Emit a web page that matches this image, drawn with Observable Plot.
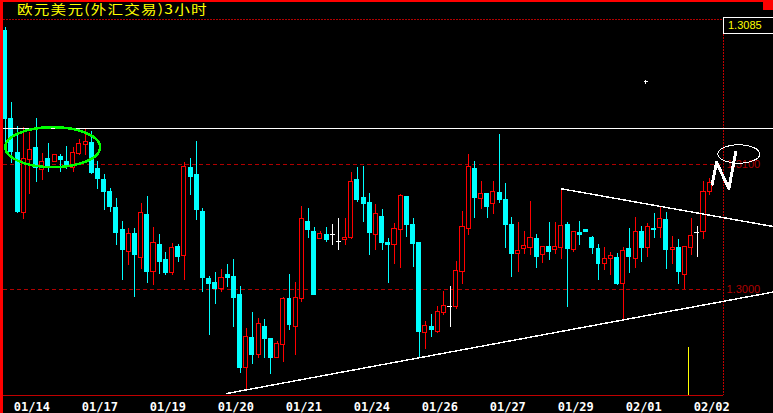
<!DOCTYPE html>
<html>
<head>
<meta charset="utf-8">
<script src="https://cdn.jsdelivr.net/npm/d3@7"></script>
<script src="https://cdn.jsdelivr.net/npm/@observablehq/plot@0.6"></script>
<style>
  html, body { margin: 0; padding: 0; background: #000; }
  #chart { position: relative; width: 773px; height: 413px; overflow: hidden; background: #000; }
  #chart svg { position: absolute; left: 0; top: 0; shape-rendering: crispEdges; }
  .edge { position: absolute; background: #ff0000; }
  .title { position: absolute; left: 17px; top: 2px; color: #ffff00; font: 13px "Noto Sans CJK SC", sans-serif;
           line-height: 14px; letter-spacing: 1px; transform: scaleX(1.2); transform-origin: 0 0; white-space: nowrap; }
  .lastBox { position: absolute; left: 723px; top: 17px; width: 60px; height: 17px; box-sizing: border-box;
             border: 1px solid #fff; border-right: none; }
  .lastText { position: absolute; left: 728px; top: 20px; color: #ffff00; font: 11px "Liberation Sans", Arial, sans-serif;
              line-height: 11px; white-space: nowrap; }
</style>
</head>
<body>
<div id="chart"></div>
<script>
// EUR/USD 3-hour candles, oldest first
const open = [
  1.32075, 1.31371, 1.31099, 1.30613, 1.31040, 1.31139, 1.30960, 1.31051, 1.31021, 1.31067,
  1.31027, 1.30976, 1.31088, 1.31160, 1.31179, 1.30971, 1.30883, 1.30787, 1.30659, 1.30483,
  1.30301, 1.30451, 1.30253, 1.30603, 1.30141, 1.30363, 1.30243, 1.30131, 1.30347, 1.30267,
  1.30979, 1.30923, 1.30627, 1.30091, 1.30059, 1.30005, 1.30123, 1.30107, 1.29963, 1.29373,
  1.29619, 1.29477, 1.29707, 1.29611, 1.29453, 1.29557, 1.29931, 1.29701, 1.29925, 1.30547,
  1.30467, 1.30403, 1.30443, 1.30440, 1.30387, 1.30395, 1.30413, 1.30883, 1.30739, 1.30699,
  1.30435, 1.30587, 1.30379, 1.30355, 1.30475, 1.30747, 1.30523, 1.30379, 1.29651, 1.29707,
  1.29659, 1.29813, 1.29867, 1.29861, 1.30141, 1.30483, 1.30971, 1.30725, 1.30771, 1.30685,
  1.30779, 1.30723, 1.30523, 1.30285, 1.30323, 1.30333, 1.30411, 1.30275, 1.30347, 1.30315,
  1.30331, 1.30523, 1.30315, 1.30459, 1.30483, 1.30419, 1.30331, 1.30203, 1.30243, 1.30259,
  1.30043, 1.30331, 1.30243, 1.30467, 1.30331, 1.30491, 1.30491, 1.30563, 1.30315, 1.30339,
  1.30115, 1.30331, 1.30459, 1.30459, 1.30779
];
const high = [
  1.32096, 1.31499, 1.31307, 1.31296, 1.31259, 1.31371, 1.31091, 1.31171, 1.31083, 1.31083,
  1.31147, 1.31139, 1.31203, 1.31280, 1.31264, 1.31027, 1.30923, 1.30811, 1.30731, 1.30547,
  1.30488, 1.30491, 1.30691, 1.30747, 1.30499, 1.30443, 1.30299, 1.30371, 1.30363, 1.31019,
  1.31051, 1.31187, 1.30651, 1.30107, 1.30139, 1.30163, 1.30203, 1.30243, 1.30027, 1.29691,
  1.29819, 1.29771, 1.29763, 1.29611, 1.29587, 1.29939, 1.30123, 1.30059, 1.30667, 1.30651,
  1.30499, 1.30467, 1.30499, 1.30523, 1.30571, 1.30571, 1.30939, 1.30979, 1.30987, 1.30771,
  1.30683, 1.30643, 1.30411, 1.30531, 1.30763, 1.30747, 1.30571, 1.30379, 1.29747, 1.29803,
  1.29867, 1.29987, 1.30027, 1.30227, 1.30627, 1.31083, 1.31027, 1.30867, 1.30771, 1.30867,
  1.31243, 1.30851, 1.30579, 1.30539, 1.30467, 1.30707, 1.30443, 1.30347, 1.30539, 1.30539,
  1.30811, 1.30539, 1.30467, 1.30547, 1.30483, 1.30427, 1.30363, 1.30339, 1.30299, 1.30291,
  1.30339, 1.30491, 1.30579, 1.30507, 1.30531, 1.30611, 1.30659, 1.30619, 1.30427, 1.30403,
  1.30347, 1.30571, 1.30507, 1.30867, 1.30891
];
const low = [
  1.31181, 1.31008, 1.30608, 1.30563, 1.30765, 1.30859, 1.30875, 1.30939, 1.31019, 1.30939,
  1.30963, 1.30939, 1.31075, 1.31075, 1.30923, 1.30803, 1.30635, 1.30619, 1.30355, 1.30075,
  1.30195, 1.29941, 1.30160, 1.30051, 1.30035, 1.30123, 1.30115, 1.30115, 1.30219, 1.30075,
  1.30755, 1.30555, 1.29979, 1.29635, 1.29883, 1.29979, 1.30019, 1.29699, 1.29331, 1.29203,
  1.29403, 1.29451, 1.29451, 1.29323, 1.29451, 1.29419, 1.29675, 1.29475, 1.29899, 1.30411,
  1.29955, 1.30403, 1.30379, 1.30355, 1.30315, 1.30355, 1.30403, 1.30699, 1.30539, 1.30275,
  1.30315, 1.30315, 1.30051, 1.30203, 1.30171, 1.30419, 1.30179, 1.29451, 1.29523, 1.29619,
  1.29651, 1.29795, 1.29699, 1.29843, 1.30043, 1.30435, 1.30571, 1.30643, 1.30571, 1.30603,
  1.30691, 1.30331, 1.30099, 1.30139, 1.30283, 1.30275, 1.30171, 1.30211, 1.30235, 1.30283,
  1.30243, 1.29859, 1.30299, 1.30355, 1.30459, 1.30283, 1.30075, 1.30155, 1.30115, 1.30035,
  1.29763, 1.30131, 1.30171, 1.30219, 1.30259, 1.30411, 1.30411, 1.30163, 1.30203, 1.30043,
  1.30000, 1.30275, 1.30259, 1.30403, 1.30755
];
const close = [
  1.31360, 1.31101, 1.30619, 1.31048, 1.31120, 1.30973, 1.31024, 1.30981, 1.31080, 1.31037,
  1.30981, 1.31096, 1.31168, 1.31184, 1.30931, 1.30883, 1.30779, 1.30659, 1.30451, 1.30315,
  1.30443, 1.30275, 1.30611, 1.30139, 1.30371, 1.30219, 1.30131, 1.30331, 1.30259, 1.30979,
  1.30901, 1.30635, 1.30093, 1.30045, 1.30003, 1.30091, 1.30091, 1.29931, 1.29371, 1.29619,
  1.29475, 1.29723, 1.29603, 1.29451, 1.29563, 1.29923, 1.29715, 1.29931, 1.30563, 1.30475,
  1.29955, 1.30443, 1.30395, 1.30440, 1.30387, 1.30411, 1.30859, 1.30715, 1.30683, 1.30451,
  1.30603, 1.30371, 1.30355, 1.30483, 1.30747, 1.30515, 1.30363, 1.29659, 1.29707, 1.29675,
  1.29819, 1.29867, 1.29867, 1.30147, 1.30499, 1.30979, 1.30731, 1.30763, 1.30659, 1.30779,
  1.30715, 1.30515, 1.30283, 1.30307, 1.30347, 1.30411, 1.30259, 1.30339, 1.30299, 1.30339,
  1.30507, 1.30323, 1.30459, 1.30435, 1.30459, 1.30331, 1.30203, 1.30243, 1.30267, 1.30043,
  1.30307, 1.30259, 1.30459, 1.30331, 1.30499, 1.30475, 1.30563, 1.30315, 1.30331, 1.30139,
  1.30339, 1.30427, 1.30459, 1.30779, 1.30851
];

// date labels along the time axis (bar index -> label)
const tickIndex = [4, 15, 26, 37, 48, 59, 70, 81, 92, 103, 114];
const tickLabels = ["01/14", "01/17", "01/19", "01/20", "01/21", "01/24", "01/26", "01/27", "01/29", "02/01", "02/02"];

// price levels with dashed guides
const priceLevels = [1.3100, 1.3000];

// hand-drawn study lines (bar index, price)
const resistance = [{x: -0.3, y: 1.31288}, {x: 124.3, y: 1.31288}];
const upperTrend = [{x: 90.02, y: 1.30808}, {x: 124.3, y: 1.30506}];
const lowerTrend = [{x: 35.81, y: 1.29170}, {x: 124.3, y: 1.29982}];
const greenRing = [{x: 0, y: 1.31141}, {x: 7.69, y: 1.31301}, {x: 15.37, y: 1.31141}, {x: 7.69, y: 1.30981}];
const whiteRing = [{x: 115.3, y: 1.31086}, {x: 118.7, y: 1.31160}, {x: 122.1, y: 1.31086}, {x: 118.7, y: 1.31013}];
const nStroke = [{x: 114.4, y: 1.30846}, {x: 115.1, y: 1.31021}, {x: 117.1, y: 1.30808}, {x: 118.2, y: 1.31101}];
const timeMarker = [{x: 110.6, y: 1.29538}];
const cursorMark = [{x: 103.66, y: 1.31664}];

const xDomain = [-0.275, 116.23];
const yDomain = [1.291544, 1.321624];

const UP = "#ff0000", DOWN = "#00ffff", FLAT = "#ffffff", GUIDE = "#b00000";

const candles = d3.range(open.length).map(i => ({i, o: open[i], h: high[i], l: low[i], c: close[i]}));
const rising = candles.filter(d => d.c > d.o);
const falling = candles.filter(d => d.c < d.o);
const flat = candles.filter(d => d.c === d.o);

// closed cardinal spline through the four extremes traces an ellipse
const ringCurve = d3.curveCardinalClosed.tension(-0.657);

const plot = Plot.plot({
  width: 773,
  height: 413,
  marginLeft: 3,
  marginRight: 50,
  marginTop: 19,
  marginBottom: 18,
  style: {background: "#000", overflow: "visible"},
  x: {domain: xDomain, axis: null},
  y: {domain: yDomain, axis: null},
  marks: [
    Plot.ruleY(priceLevels, {stroke: GUIDE, strokeDasharray: "4,3"}),
    Plot.ruleY([yDomain[1]], {stroke: GUIDE, strokeDasharray: "2,1"}),
    Plot.ruleY([yDomain[0]], {stroke: "#c00000"}),
    Plot.ruleX([xDomain[1]], {stroke: "#c00000", strokeDasharray: "2,1"}),
    Plot.text(priceLevels, {x: () => xDomain[1], y: d => d, text: d => d.toFixed(4), dx: 3, textAnchor: "start",
      fill: GUIDE, fontSize: 11, fontFamily: "Liberation Sans, Arial, sans-serif"}),

    // wicks
    Plot.ruleX(rising, {x: "i", y1: "l", y2: "h", stroke: UP}),
    Plot.ruleX(falling, {x: "i", y1: "l", y2: "h", stroke: DOWN}),
    Plot.ruleX(flat, {x: "i", y1: "l", y2: "h", stroke: FLAT}),
    // bodies
    Plot.rect(falling, {x1: d => d.i - 0.4, x2: d => d.i + 0.4, y1: "o", y2: "c", fill: DOWN}),
    Plot.rect(rising, {x1: d => d.i - 0.33, x2: d => d.i + 0.33, y1: "o", y2: "c", fill: "#000", stroke: UP}),
    Plot.ruleY(flat, {x1: d => d.i - 0.4, x2: d => d.i + 0.4, y: "c", stroke: FLAT}),

    // study lines
    Plot.line(resistance, {x: "x", y: "y", stroke: "#fff", strokeWidth: 1}),
    Plot.line(upperTrend, {x: "x", y: "y", stroke: "#fff", strokeWidth: 1.4}),
    Plot.line(lowerTrend, {x: "x", y: "y", stroke: "#fff", strokeWidth: 1.4}),
    Plot.line(greenRing, {x: "x", y: "y", stroke: "#00ff00", strokeWidth: 2.5, curve: ringCurve}),
    Plot.ruleX(timeMarker, {x: "x", y1: "y", y2: () => yDomain[0], stroke: "#ffff00"}),
    Plot.dot(cursorMark, {x: "x", y: "y", symbol: "plus", r: 1.5, stroke: "#fff", fill: "none", strokeWidth: 1}),
    Plot.line(whiteRing, {x: "x", y: "y", stroke: "#fff", strokeWidth: 1, curve: ringCurve}),
    Plot.line(nStroke, {x: "x", y: "y", stroke: "#fff", strokeWidth: 3, strokeLinejoin: "round", strokeLinecap: "round"}),

    // date labels
    Plot.text(tickIndex, {x: d => d, text: (d, i) => tickLabels[i], frameAnchor: "bottom", dy: 15, dx: 2,
      lineAnchor: "bottom", fill: "#fff", fontSize: 12, fontWeight: "bold",
      fontFamily: "DejaVu Sans Mono, monospace"})
  ]
});

const chart = document.getElementById("chart");
chart.appendChild(plot);

const title = document.createElement("div");
title.className = "title";
title.textContent = "欧元美元(外汇交易)3小时";
chart.appendChild(title);

const box = document.createElement("div");
box.className = "lastBox";
chart.appendChild(box);
const last = document.createElement("div");
last.className = "lastText";
last.textContent = close[close.length - 1].toFixed(4);
chart.appendChild(last);

for (const [l, t, w, h] of [[0, 0, 3, 413], [0, 0, 773, 2], [763, 0, 10, 10]]) {
  const e = document.createElement("div");
  e.className = "edge";
  Object.assign(e.style, {left: l + "px", top: t + "px", width: w + "px", height: h + "px"});
  chart.appendChild(e);
}
</script>
</body>
</html>
